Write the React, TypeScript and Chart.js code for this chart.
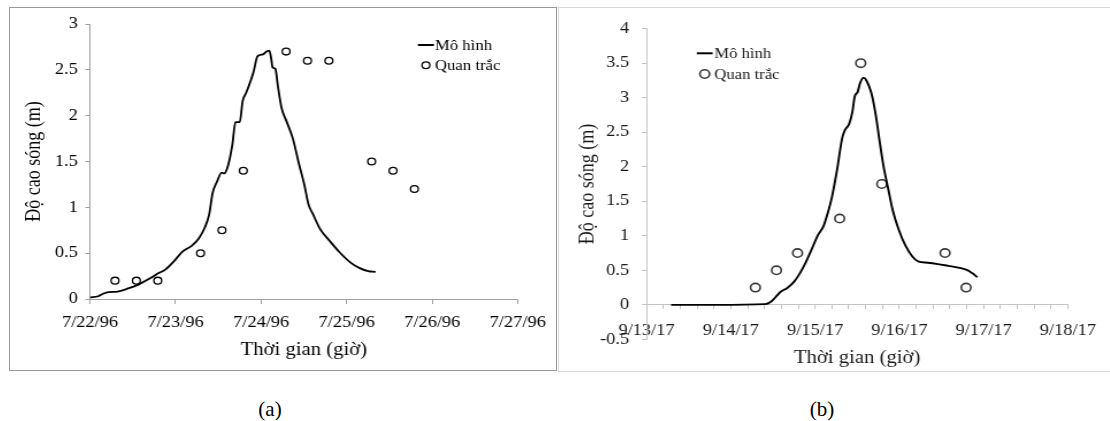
import React, { useEffect, useRef } from 'react';
import { Chart, registerables } from 'chart.js';

Chart.register(...registerables);

const SX = 1.15;
const FONT = '"Liberation Serif", "Times New Roman", serif';

// ---------- Chart (a) ----------
const datesA = ['7/22/96', '7/23/96', '7/24/96', '7/25/96', '7/26/96', '7/27/96'];
const yTicksA = ['0', '0.5', '1', '1.5', '2', '2.5', '3'];
const modelHoursA = [0, 2.3, 3.8, 5.2, 7.7, 10.7, 13.7, 16.6, 19.1, 21.1, 23.5, 26.0, 28.5, 30.5, 32.2, 33.4, 34.4, 35.6, 36.9, 37.6, 38.6, 39.9, 40.8, 42.0, 42.8, 43.8, 45.8, 47.0, 48.5, 49.5, 50.3, 50.8, 51.2, 52.0, 52.7, 53.7, 55.2, 56.9, 58.7, 60.1, 61.3, 62.6, 64.6, 67.1, 70.0, 73.0, 75.5, 78.0, 80.1];
const modelHeightA = [0.018, 0.03, 0.06, 0.075, 0.08, 0.115, 0.16, 0.22, 0.28, 0.32, 0.41, 0.52, 0.58, 0.66, 0.78, 0.92, 1.16, 1.28, 1.38, 1.37, 1.44, 1.68, 1.93, 1.93, 2.16, 2.25, 2.47, 2.65, 2.67, 2.70, 2.71, 2.63, 2.53, 2.51, 2.32, 2.09, 1.93, 1.75, 1.46, 1.25, 1.03, 0.92, 0.76, 0.64, 0.51, 0.40, 0.34, 0.305, 0.295];
const obsHoursA = [7, 13, 19, 31, 37, 43, 55, 61, 67, 79, 85, 91];
const obsHeightA = [0.2, 0.2, 0.2, 0.5, 0.75, 1.4, 2.7, 2.6, 2.6, 1.5, 1.4, 1.2];

// ---------- Chart (b) ----------
const datesB = ['9/13/17', '9/14/17', '9/15/17', '9/16/17', '9/17/17', '9/18/17'];
const yTicksB = ['-0.5', '0', '0.5', '1', '1.5', '2', '2.5', '3', '3.5', '4'];
const modelHoursB = [7.0, 19.7, 33.8, 35.3, 36.7, 38.2, 40.1, 42.1, 43.7, 45.2, 46.9, 48.7, 50.4, 51.6, 52.8, 54.2, 55.7, 56.5, 57.7, 58.6, 59.3, 60.1, 60.8, 61.8, 62.5, 64.0, 65.3, 66.4, 67.4, 68.9, 70.1, 71.8, 73.7, 75.7, 77.3, 80.1, 83.0, 85.9, 88.8, 91.5, 92.7, 94.2];
const modelHeightB = [0, 0, 0.01, 0.04, 0.11, 0.19, 0.245, 0.34, 0.46, 0.6, 0.79, 1.0, 1.14, 1.33, 1.56, 1.94, 2.41, 2.53, 2.62, 2.79, 3.02, 3.08, 3.21, 3.29, 3.26, 3.07, 2.74, 2.36, 2.03, 1.66, 1.37, 1.09, 0.86, 0.70, 0.63, 0.61, 0.59, 0.565, 0.54, 0.50, 0.46, 0.40];
const obsHoursB = [31, 37, 43, 55, 61, 67, 85, 91];
const obsHeightB = [0.25, 0.5, 0.75, 1.25, 3.5, 1.75, 0.75, 0.25];

const seriesLabels = ['Mô hình', 'Quan trắc'];

const toXY = (xs: number[], ys: number[]) => xs.map((x, i) => ({ x, y: ys[i] }));

const customLegend = {
  id: 'customLegend',
  afterDraw(chart: any, _args: any, opts: any) {
    const ctx = chart.ctx;
    ctx.save();
    ctx.font = `${opts.fontSize}px ${FONT}`;
    ctx.textBaseline = 'middle';
    ctx.textAlign = 'left';
    chart.data.datasets.forEach((ds: any, i: number) => {
      const y = opts.y + i * opts.rowGap;
      if (ds.showLine) {
        ctx.strokeStyle = ds.borderColor;
        ctx.lineWidth = opts.lineWidth;
        ctx.beginPath();
        ctx.moveTo(opts.lineX0, y);
        ctx.lineTo(opts.lineX1, y);
        ctx.stroke();
      } else {
        ctx.strokeStyle = ds.pointBorderColor;
        ctx.fillStyle = '#fff';
        ctx.lineWidth = ds.pointBorderWidth;
        ctx.beginPath();
        ctx.arc((opts.lineX0 + opts.lineX1) / 2, y, ds.pointRadius, 0, Math.PI * 2);
        ctx.fill();
        ctx.stroke();
      }
      ctx.fillStyle = opts.color;
      ctx.fillText(ds.label, opts.textX, y + 1);
    });
    ctx.restore();
  },
};

function buildA(): any {
  const axisColor = '#a0a0a0';
  return {
    type: 'scatter',
    data: {
      datasets: [
        {
          label: seriesLabels[0],
          data: toXY(modelHoursA, modelHeightA),
          showLine: true,
          borderColor: '#000',
          borderWidth: 1.8,
          pointRadius: 0,
          cubicInterpolationMode: 'monotone',
          fill: false,
        },
        {
          label: seriesLabels[1],
          data: toXY(obsHoursA, obsHeightA),
          showLine: false,
          pointRadius: 3.4,
          pointBorderWidth: 1.3,
          pointBorderColor: '#000',
          pointBackgroundColor: '#fff',
        },
      ],
    },
    options: {
      animation: false,
      responsive: false,
      events: [],
      layout: { padding: { left: 0, top: 12.7, right: 28.7, bottom: 0 } },
      plugins: {
        legend: { display: false },
        tooltip: { enabled: false },
        customLegend: { fontSize: 14.5, color: '#000', y: 37, rowGap: 20.3, lineX0: 354.7, lineX1: 368.7, textX: 369.6, lineWidth: 2 },
      },
      scales: {
        x: {
          type: 'linear',
          min: 0,
          max: 120,
          afterFit: (s: any) => { s.height = 71; },
          ticks: {
            stepSize: 24,
            autoSkip: false,
            maxRotation: 0,
            padding: 9,
            color: '#000',
            font: { family: FONT, size: 16 },
            callback: (v: number) => datesA[Math.round(v / 24)],
          },
          grid: { drawOnChartArea: false, drawTicks: true, tickLength: 5, color: axisColor },
          border: { color: axisColor, width: 1 },
          title: { display: true, text: 'Thời gian (giờ)', color: '#000', font: { family: FONT, size: 18 }, padding: { top: 0, bottom: 9 } },
        },
        y: {
          type: 'linear',
          min: 0,
          max: 3,
          afterFit: (s: any) => { s.width = 69.6; },
          ticks: {
            stepSize: 0.5,
            padding: 6.5,
            color: '#000',
            font: { family: FONT, size: 16 },
            callback: (_v: number, i: number) => yTicksA[i],
          },
          grid: { drawOnChartArea: false, drawTicks: true, tickLength: 4, color: axisColor },
          border: { color: axisColor, width: 1 },
          title: { display: true, text: 'Độ cao sóng (m)', color: '#000', font: { family: FONT, size: 18 }, padding: { top: 10, bottom: 0 } },
        },
      },
    },
    plugins: [customLegend],
  };
}

function buildB(): any {
  const axisColor = '#c4c4c4';
  const txt = '#1a1a1a';
  return {
    type: 'scatter',
    data: {
      datasets: [
        {
          label: seriesLabels[0],
          data: toXY(modelHoursB, modelHeightB),
          showLine: true,
          borderColor: '#000',
          borderWidth: 1.9,
          pointRadius: 0,
          cubicInterpolationMode: 'monotone',
          fill: false,
        },
        {
          label: seriesLabels[1],
          data: toXY(obsHoursB, obsHeightB),
          showLine: false,
          pointRadius: 4.2,
          pointBorderWidth: 1.6,
          pointBorderColor: '#3a3a3a',
          pointBackgroundColor: '#fff',
        },
      ],
    },
    options: {
      animation: false,
      responsive: false,
      events: [],
      layout: { padding: { left: 0, top: 12.7, right: 26.8, bottom: 31.6 } },
      plugins: {
        legend: { display: false },
        tooltip: { enabled: false },
        customLegend: { fontSize: 14.5, color: txt, y: 45.3, rowGap: 20.7, lineX0: 119.8, lineX1: 133.6, textX: 135, lineWidth: 2 },
      },
      scales: {
        x: {
          type: 'linear',
          position: { y: 0 },
          min: 0,
          max: 120,
          afterFit: (s: any) => { s.height = 63.8; },
          ticks: {
            stepSize: 4.8,
            autoSkip: false,
            maxRotation: 0,
            padding: 12,
            color: txt,
            font: { family: FONT, size: 16 },
            callback: (v: number) => {
              const d = v / 24;
              return Math.abs(d - Math.round(d)) < 1e-6 ? datesB[Math.round(d)] : '';
            },
          },
          grid: { drawOnChartArea: false, drawTicks: true, tickLength: 4, color: axisColor },
          border: { color: axisColor, width: 1 },
          title: { display: true, text: 'Thời gian (giờ)', color: txt, font: { family: FONT, size: 18 }, padding: { top: 0, bottom: 0 } },
        },
        y: {
          type: 'linear',
          min: -0.5,
          max: 4,
          afterFit: (s: any) => { s.width = 76.1; },
          ticks: {
            stepSize: 0.5,
            padding: 11,
            color: txt,
            font: { family: FONT, size: 16 },
            callback: (_v: number, i: number) => yTicksB[i],
          },
          grid: { drawOnChartArea: false, drawTicks: true, tickLength: 4, color: axisColor },
          border: { color: axisColor, width: 1 },
          title: { display: true, text: 'Độ cao sóng (m)', color: txt, font: { family: FONT, size: 18 }, padding: { top: 14.4, bottom: 0 } },
        },
      },
    },
    plugins: [customLegend],
  };
}

function ChartCanvas({ width, height, left, top, build }: { width: number; height: number; left: number; top: number; build: () => any }) {
  const ref = useRef<HTMLCanvasElement>(null);
  useEffect(() => {
    const chart = new Chart(ref.current as HTMLCanvasElement, build());
    return () => chart.destroy();
  }, []);
  return (
    <canvas
      ref={ref}
      width={width}
      height={height}
      style={{ position: 'absolute', left, top, width, height, transform: `scaleX(${SX})`, transformOrigin: '0 0' }}
    />
  );
}

export default function App() {
  return (
    <div style={{ position: 'absolute', left: 0, top: 0, width: 1110, height: 421, overflow: 'hidden', background: '#fff' }}>
      <div style={{ position: 'absolute', left: 9, top: 7, width: 548, height: 364, boxSizing: 'border-box', border: '1px solid #9a9a9a' }} />
      <div style={{ position: 'absolute', left: 558, top: 7, width: 570, height: 365, boxSizing: 'border-box', border: '1px solid #d9d9d9' }} />
      <ChartCanvas width={475} height={362} left={10} top={8} build={buildA} />
      <ChartCanvas width={479} height={363} left={559} top={8} build={buildB} />
      <div style={{ position: 'absolute', left: 220, top: 396, width: 100, textAlign: 'center', fontFamily: FONT, fontSize: 21, lineHeight: '26px', color: '#000' }}>(a)</div>
      <div style={{ position: 'absolute', left: 772, top: 396, width: 100, textAlign: 'center', fontFamily: FONT, fontSize: 21, lineHeight: '26px', color: '#000' }}>(b)</div>
    </div>
  );
}
